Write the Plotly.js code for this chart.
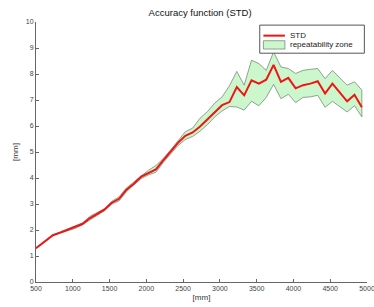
<!DOCTYPE html>
<html><head><meta charset="utf-8">
<script src="https://cdn.plot.ly/plotly-3.0.1.min.js"></script>
<style>html,body{margin:0;padding:0;background:#fff}#chart{width:374px;height:307px}</style>
</head><body><div id="chart"></div>
<script>
const distance = [500,630,730,830,930,1030,1130,1230,1330,1430,1530,1630,1730,1830,1930,2030,2130,2230,2330,2430,2530,2630,2730,2830,2930,3030,3130,3230,3330,3430,3530,3630,3730,3830,3930,4030,4130,4230,4330,4430,4530,4630,4730,4830,4930];
const stdValues = [1.30,1.60,1.80,1.90,2.00,2.10,2.23,2.45,2.60,2.78,3.05,3.20,3.55,3.78,4.05,4.20,4.33,4.68,5.00,5.35,5.62,5.75,5.98,6.25,6.52,6.80,6.92,7.50,7.18,7.76,7.63,7.78,8.35,7.70,7.85,7.45,7.57,7.63,7.72,7.25,7.63,7.30,6.95,7.20,6.72];
const upperZone = [1.31,1.61,1.81,1.93,2.04,2.15,2.27,2.52,2.66,2.82,3.10,3.28,3.62,3.85,4.10,4.30,4.48,4.75,5.08,5.45,5.78,5.92,6.30,6.55,6.88,7.12,7.55,8.10,7.57,8.53,8.40,8.14,8.85,8.27,8.21,8.02,8.14,8.18,8.21,7.82,8.14,7.85,7.57,7.70,7.38];
const lowerZone = [1.29,1.59,1.79,1.88,1.97,2.06,2.20,2.38,2.55,2.74,3.00,3.12,3.48,3.72,3.98,4.12,4.22,4.60,4.93,5.25,5.48,5.60,5.80,6.05,6.35,6.58,6.75,6.73,6.61,6.95,6.78,7.10,7.60,7.05,7.22,6.90,7.10,7.12,7.18,6.72,6.95,6.75,6.54,6.78,6.35];
const xTicks = [500,1000,1500,2000,2500,3000,3500,4000,4500,5000];
const yTicks = [0,1,2,3,4,5,6,7,8,9,10];
const legendLabels = ['STD','repeatability zone'];

const zoneFill = 'rgb(204,247,204)';
const zoneEdge = 'rgb(120,140,120)';
const stdColor = 'rgb(240,20,20)';
const FONT = '"Liberation Sans", Arial, sans-serif';

const zoneX = distance.concat(distance.slice().reverse());
const zoneY = upperZone.concat(lowerZone.slice().reverse());

const traces = [
  {x: zoneX, y: zoneY, type:'scatter', mode:'lines', fill:'toself',
   fillcolor:zoneFill, line:{color:zoneEdge, width:0.8},
   name:legendLabels[1], hoverinfo:'skip'},
  {x: distance, y: stdValues, type:'scatter', mode:'lines',
   line:{color:stdColor, width:2}, name:legendLabels[0]}
];
const axisFont = {family:FONT, size:7, color:'#444'};
const layout = {
  width:374, height:307,
  margin:{l:36, r:7, t:22, b:25, pad:0},
  paper_bgcolor:'#fff', plot_bgcolor:'#fff',
  showlegend:false,
  title:{text:'Accuracy function (STD)', x:0.535, xanchor:'center', y:0.96, yanchor:'middle',
         font:{family:FONT, size:9.5, color:'#111'}},
  xaxis:{range:[500,5000], tickvals:xTicks, ticktext:xTicks.map(String), ticks:'inside', ticklen:3,
         ticklabeloverflow:'allow',
         tickcolor:'#666', showline:true, linecolor:'#666', linewidth:1, showgrid:false, zeroline:false,
         tickfont:axisFont, title:{text:'[mm]', font:{family:FONT, size:8, color:'#333'}, standoff:2}},
  yaxis:{range:[0,10], tickvals:yTicks, ticks:'inside', ticklen:3,
         ticklabeloverflow:'allow',
         tickcolor:'#666', showline:true, linecolor:'#666', linewidth:1, showgrid:false, zeroline:false,
         tickfont:axisFont, title:{text:'[mm]', font:{family:FONT, size:8, color:'#333'}, standoff:6}},
  shapes:[
    {type:'rect', xref:'paper', yref:'paper', x0:0.676, x1:0.992, y0:0.880, y1:0.988,
     fillcolor:'#fff', line:{color:'#555', width:1}, layer:'above'},
    {type:'line', xref:'paper', yref:'paper', x0:0.687, x1:0.752, y0:0.9475, y1:0.9475,
     line:{color:stdColor, width:2}, layer:'above'},
    {type:'rect', xref:'paper', yref:'paper', x0:0.687, x1:0.752, y0:0.896, y1:0.928,
     fillcolor:zoneFill, line:{color:zoneEdge, width:0.8}, layer:'above'}
  ],
  annotations:[
    {xref:'paper', yref:'paper', x:0.760, y:0.9475, xanchor:'left', yanchor:'middle', showarrow:false,
     text:legendLabels[0], font:{family:FONT, size:8, color:'#222'}},
    {xref:'paper', yref:'paper', x:0.760, y:0.912, xanchor:'left', yanchor:'middle', showarrow:false,
     text:legendLabels[1], font:{family:FONT, size:8, color:'#222'}}
  ]
};
Plotly.newPlot('chart', traces, layout, {staticPlot:true, displayModeBar:false});
</script></body></html>
